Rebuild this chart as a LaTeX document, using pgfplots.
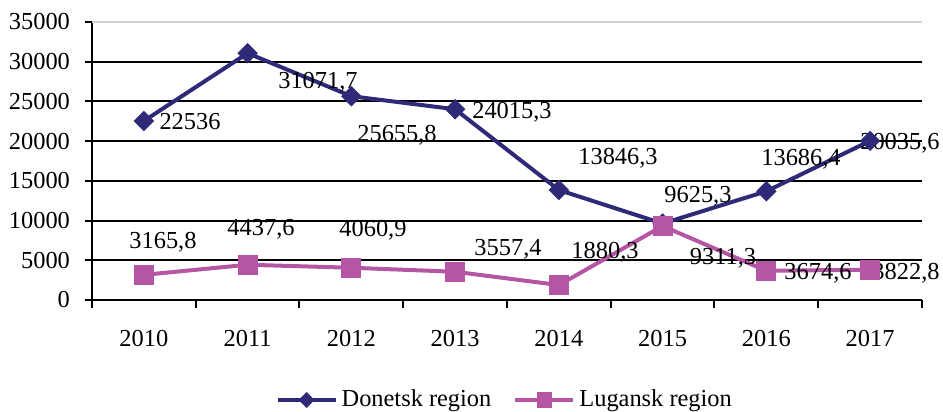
\documentclass[border=0pt]{standalone}
\usepackage{fontspec}
\setmainfont{Liberation Serif}
\newfontfamily\tnr{Liberation Serif}
\usepackage{pgfplots}
\pgfplotsset{compat=1.18}
\definecolor{don}{RGB}{46,42,120}
\definecolor{lug}{RGB}{181,86,164}
\begin{document}
\begin{tikzpicture}[font=\tnr]
\useasboundingbox (-46pt,-56pt) rectangle (425.5pt,150pt);
\begin{axis}[
  at={(0pt,0pt)}, anchor=south west,
  scale only axis, width=415pt, height=139pt,
  font=\tnr\fontsize{12.2}{14}\selectfont,
  xmin=-0.5, xmax=7.5, ymin=0, ymax=35000,
  axis x line=bottom, axis y line=left,
  axis line style={-, black, line width=1pt},
  xtick={0,1,2,3,4,5,6,7},
  xticklabels={2010,2011,2012,2013,2014,2015,2016,2017},
  xticklabel style={yshift=-8pt},
  yticklabel style={xshift=-4pt},
  major x tick style={draw=none},
  minor xtick={-0.5,0.5,1.5,2.5,3.5,4.5,5.5,6.5,7.5},
  minor tick length=4pt,
  major tick length=3.5pt,
  ytick={0,5000,10000,15000,20000,25000,30000,35000},
  tick align=outside,
  tick style={black, line width=1pt},
  ymajorgrids, grid style={black, line width=1pt},
  scaled y ticks=false,
  /pgf/number format/1000 sep={},
  /pgf/number format/assume math mode=true,
  clip=false,
  legend style={at={(axis description cs:0.4985,-0.3597)}, anchor=center, draw=none,
    fill=none, legend columns=2, font=\tnr\fontsize{12.2}{14}\selectfont,
    /tikz/every even column/.append style={column sep=9pt}},
  legend cell align=left,
  legend image code/.code={\draw[mark repeat=2, mark phase=2, #1, every mark/.append style={scale=0.75}]
     plot coordinates {(0pt,0pt) (14.5pt,0pt) (29pt,0pt)};},
]
\draw[gray!35, line width=1pt] (axis cs:-0.5,35000) -- (axis cs:7.5,35000);
\addplot[don, line width=2pt, mark=square*, mark size=3.1pt, mark options={rotate=45, solid, fill=don, line width=1pt}]
  coordinates {(0,22536) (1,31071.7) (2,25655.8) (3,24015.3) (4,13846.3) (5,9625.3) (6,13686.4) (7,20035.6)};
\addlegendentry{Donetsk region}
\addplot[lug, line width=2pt, mark=square*, mark size=4.5pt, mark options={solid, fill=lug, line width=1pt}]
  coordinates {(0,3165.8) (1,4437.6) (2,4060.9) (3,3557.4) (4,1880.3) (5,9311.3) (6,3674.6) (7,3822.8)};
\addlegendentry{Lugansk region}
\tikzset{lbl/.style={anchor=center, inner sep=0pt, text height=8.2pt, text depth=0pt, font=\tnr\fontsize{12.2}{14}\selectfont}}
\node[lbl] at (axis cs:0.445,22536) {22536};
\node[lbl] at (axis cs:1.678,27698) {31071,7};
\node[lbl] at (axis cs:2.440,21025) {25655,8};
\node[lbl] at (axis cs:3.548,23921) {24015,3};
\node[lbl] at (axis cs:4.570,18129) {13846,3};
\node[lbl] at (axis cs:5.341,13345) {9625,3};
\node[lbl] at (axis cs:6.334,18004) {13686,4};
\node[lbl] at (axis cs:7.288,20018) {20035,6};
\node[lbl] at (axis cs:0.184,7554) {3165,8};
\node[lbl] at (axis cs:1.129,9191) {4437,6};
\node[lbl] at (axis cs:2.208,9065) {4060,9};
\node[lbl] at (axis cs:3.510,6673) {3557,4};
\node[lbl] at (axis cs:4.445,6295) {1880,3};
\node[lbl] at (axis cs:5.582,5540) {9311,3};
\node[lbl] at (axis cs:6.498,3651) {3674,6};
\node[lbl] at (axis cs:7.346,3651) {3822,8};
\end{axis}
\end{tikzpicture}
\end{document}
